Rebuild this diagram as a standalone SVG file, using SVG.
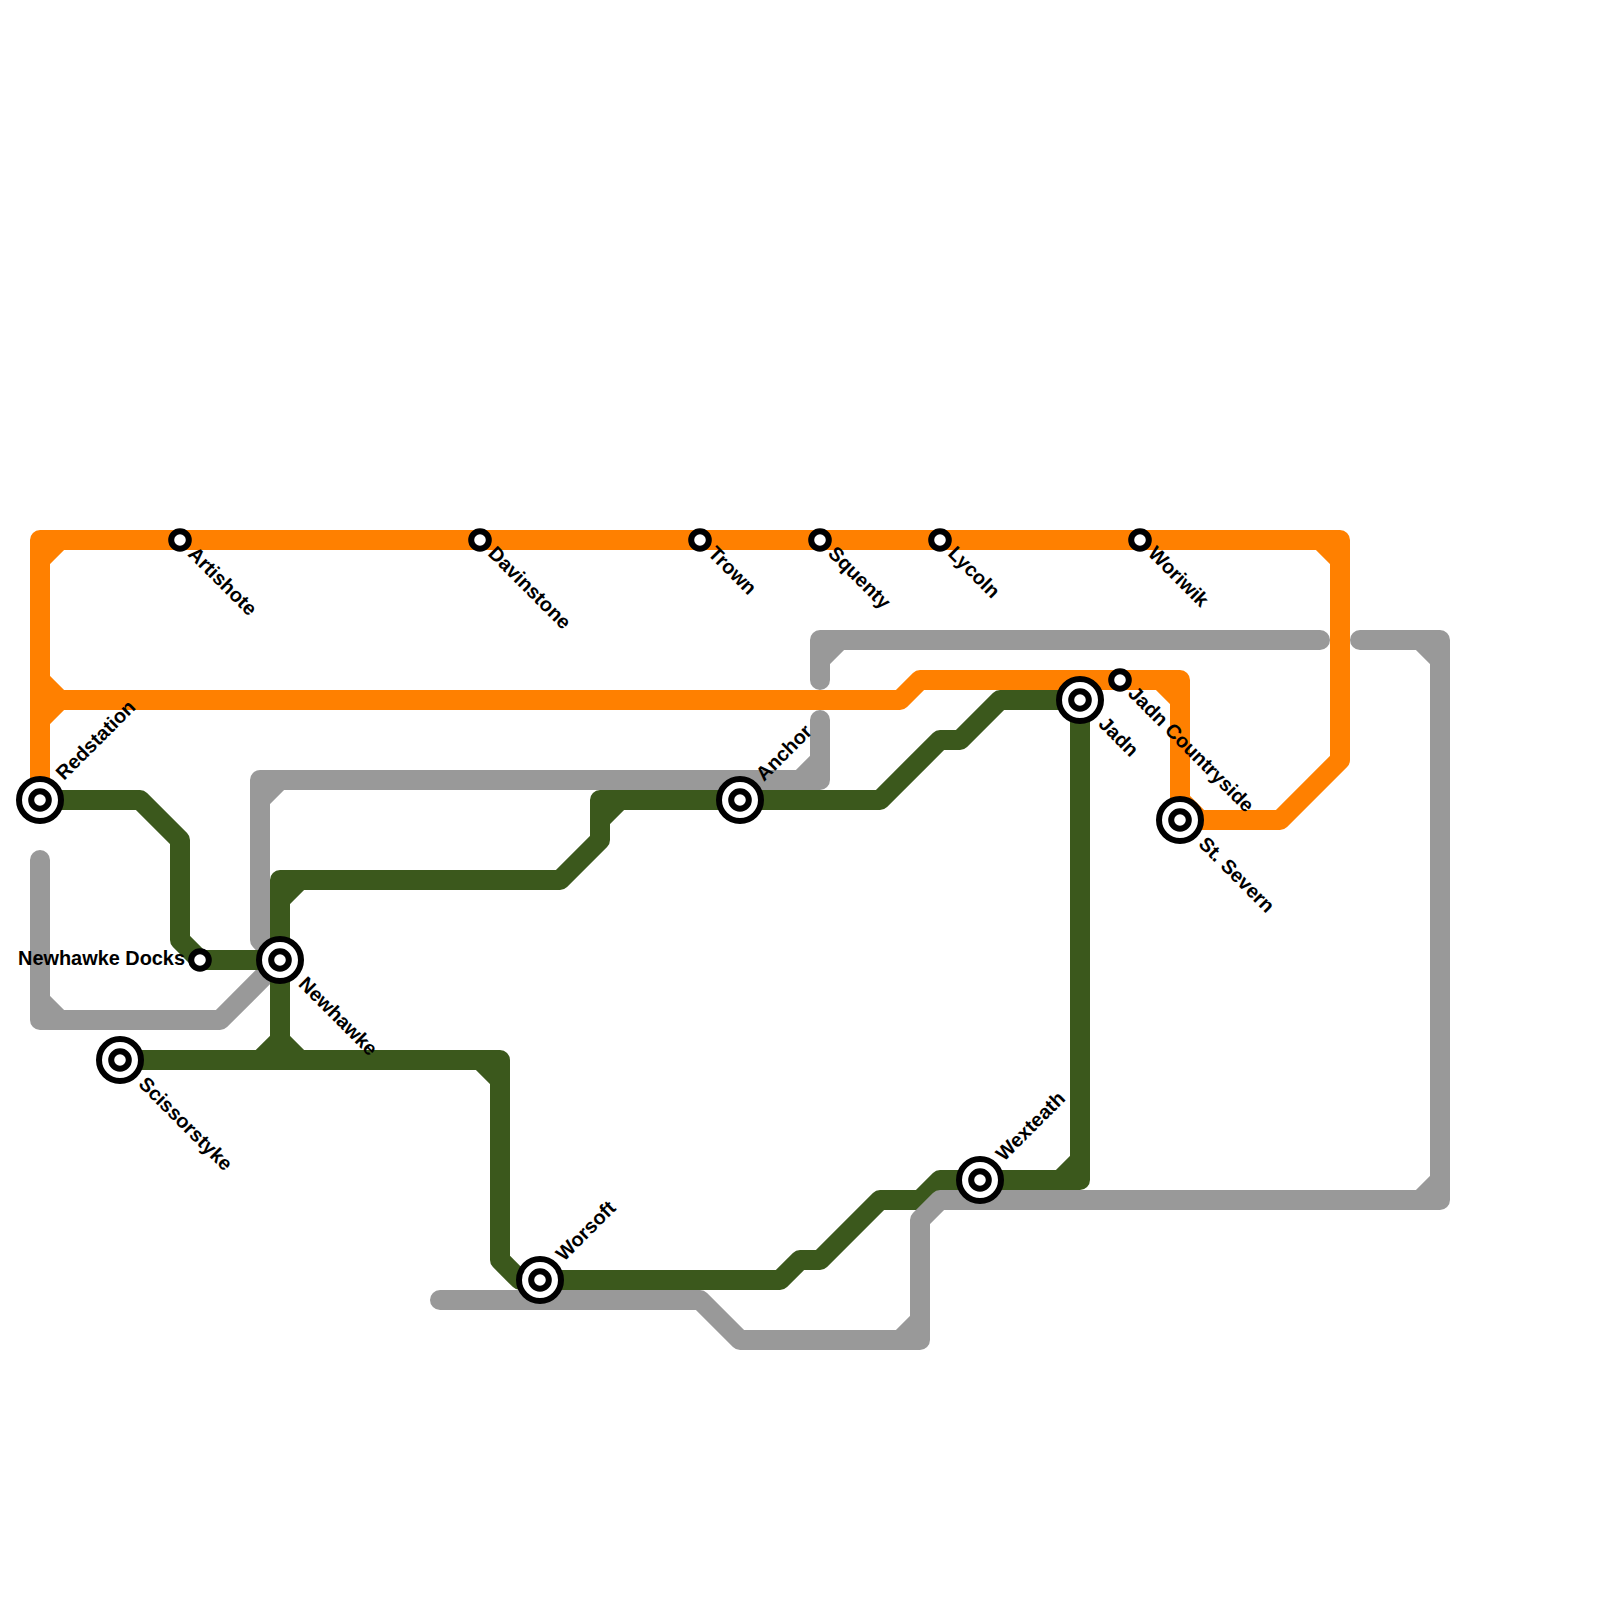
<svg xmlns="http://www.w3.org/2000/svg" width="1600" height="1600" viewBox="0 0 1600 1600">
<style>
.l{fill:none;stroke-width:20;stroke-linecap:round;stroke-linejoin:round}
.g{stroke:#999999}.o{stroke:#ff8000}.d{stroke:#3b581c}
.s{fill:#fff;stroke:#000;stroke-width:6}
.r{fill:#fff;stroke:#000;stroke-width:6}
text{font-family:"Liberation Sans",Arial,sans-serif;font-size:19.9px;font-weight:700;fill:#000}
</style>
<defs>
<g id="small"><circle class="s" r="8.8"/></g>
<g id="big"><circle class="r" r="21"/><circle class="s" r="8.8"/></g>
</defs>
<rect width="1600" height="1600" fill="#fff"/>
<g id="connectors">
<path class="l g" d="M40 860V1020H220L280 960M40 1000L60 1020"/>
<path class="l g" d="M820 720V780H260V940L280 960M800 780L820 760M260 800L280 780"/>
<path class="l g" d="M1320 640H820V680M820 660L840 640"/>
<path class="l d" d="M40 800H140L180 840V940L200 960H280"/>
<path class="l d" d="M120 1060H500V1260L520 1280H780L800 1260H820L880 1200H920L940 1180H1080V700H1000L960 740H940L880 800H600V840L560 880H280V1060M480 1060L500 1080M260 1060L280 1040L300 1060M280 900L300 880M600 820L620 800M1060 1180L1080 1160"/>
<path class="l g" d="M1360 640H1440V1200H940L920 1220V1340H740L700 1300H440M1420 640L1440 660M1440 1180L1420 1200M900 1340L920 1320"/>
<path class="l o" d="M40 800V540H1340V760L1280 820H1180V680H920L900 700H40M40 560L60 540M40 680L60 700M40 720L60 700M1320 540L1340 560M1160 680L1180 700M1180 800L1200 820"/>
</g>
<g id="redstation"><use href="#big" x="40" y="800"/><text transform="translate(64 781) rotate(-45)">Redstation</text></g>
<g id="artishote"><use href="#small" x="180" y="540"/><text transform="translate(187 555) rotate(45)">Artishote</text></g>
<g id="davinstone"><use href="#small" x="480" y="540"/><text transform="translate(487 554.5) rotate(45)">Davinstone</text></g>
<g id="trown"><use href="#small" x="700" y="540"/><text transform="translate(707 554.5) rotate(45)">Trown</text></g>
<g id="squenty"><use href="#small" x="820" y="540"/><text transform="translate(827 554.5) rotate(45)">Squenty</text></g>
<g id="lycoln"><use href="#small" x="940" y="540"/><text transform="translate(947 554.5) rotate(45)">Lycoln</text></g>
<g id="woriwik"><use href="#small" x="1140" y="540"/><text transform="translate(1147 554.5) rotate(45)">Woriwik</text></g>
<g id="jadn-countryside"><use href="#small" x="1120" y="680"/><text transform="translate(1127 694.5) rotate(45)">Jadn Countryside</text></g>
<g id="jadn"><use href="#big" x="1080" y="700"/><text transform="translate(1097.5 725) rotate(45)">Jadn</text></g>
<g id="st-severn"><use href="#big" x="1180" y="820"/><text transform="translate(1197.5 845) rotate(45)">St. Severn</text></g>
<g id="anchor"><use href="#big" x="740" y="800"/><text transform="translate(764 782) rotate(-45)">Anchor</text></g>
<g id="newhawke-docks"><use href="#small" x="200" y="960"/><text x="185" y="965" text-anchor="end">Newhawke Docks</text></g>
<g id="newhawke"><use href="#big" x="280" y="960"/><text transform="translate(297.5 985) rotate(45)">Newhawke</text></g>
<g id="scissorstyke"><use href="#big" x="120" y="1060"/><text transform="translate(137.5 1085) rotate(45)">Scissorstyke</text></g>
<g id="worsoft"><use href="#big" x="540" y="1280"/><text transform="translate(564 1262) rotate(-45)">Worsoft</text></g>
<g id="wexteath"><use href="#big" x="980" y="1180"/><text transform="translate(1004 1162) rotate(-45)">Wexteath</text></g>
</svg>
